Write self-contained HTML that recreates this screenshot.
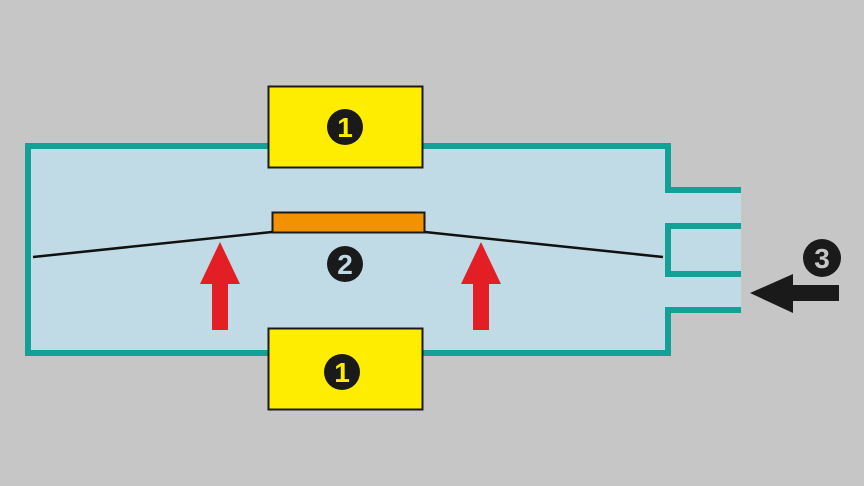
<!DOCTYPE html>
<html><head><style>html,body{margin:0;padding:0;background:#c6c6c6;}svg{display:block}</style></head>
<body>
<svg width="864" height="486" viewBox="0 0 864 486" xmlns="http://www.w3.org/2000/svg" font-family="Liberation Sans, sans-serif">
<rect width="864" height="486" fill="#c6c6c6"/>
<!-- chamber fill -->
<path d="M28 146 H668 V190 H741 V310 H668 V353 H28 Z" fill="#c1dbe6"/>
<!-- teal walls -->
<path d="M741 190 H668 V146 H28 V353 H668 V310 H741" fill="none" stroke="#13a197" stroke-width="6"/>
<path d="M741 226 H668 V274 H741" fill="none" stroke="#13a197" stroke-width="6"/>
<!-- yellow boxes -->
<rect x="268.5" y="86.5" width="154" height="81" fill="#ffed00" stroke="#1a1a1a" stroke-width="2"/>
<rect x="268.5" y="328.5" width="154" height="81" fill="#ffed00" stroke="#1a1a1a" stroke-width="2"/>
<circle cx="345" cy="127" r="18" fill="#1a1a1a"/>
<text x="345" y="137" font-size="28" font-weight="bold" fill="#ffed00" text-anchor="middle">1</text>
<circle cx="342" cy="372" r="18" fill="#1a1a1a"/>
<text x="342" y="382" font-size="28" font-weight="bold" fill="#ffed00" text-anchor="middle">1</text>
<!-- orange bar -->
<rect x="272.5" y="212.5" width="152" height="20" fill="#f39200" stroke="#1a1a1a" stroke-width="2"/>
<!-- membrane line -->
<path d="M33 257 L272 232 M425 232 L663 257" stroke="#111" stroke-width="2.5" fill="none"/>
<!-- 2 -->
<circle cx="345" cy="264" r="18" fill="#1a1a1a"/>
<text x="345" y="274" font-size="28" font-weight="bold" fill="#c1dbe6" text-anchor="middle">2</text>
<!-- red arrows -->
<path d="M220 242 L240 284 L228 284 L228 330 L212 330 L212 284 L200 284 Z" fill="#e31e24"/>
<path d="M481 242 L501 284 L489 284 L489 330 L473 330 L473 284 L461 284 Z" fill="#e31e24"/>
<!-- 3 and black arrow -->
<circle cx="822" cy="258" r="19" fill="#1a1a1a"/>
<text x="822" y="268" font-size="28" font-weight="bold" fill="#c6c6c6" text-anchor="middle">3</text>
<path d="M750 293 L793 274 L793 285 L839 285 L839 301 L793 301 L793 313 Z" fill="#1a1a1a"/>
</svg>
</body></html>
